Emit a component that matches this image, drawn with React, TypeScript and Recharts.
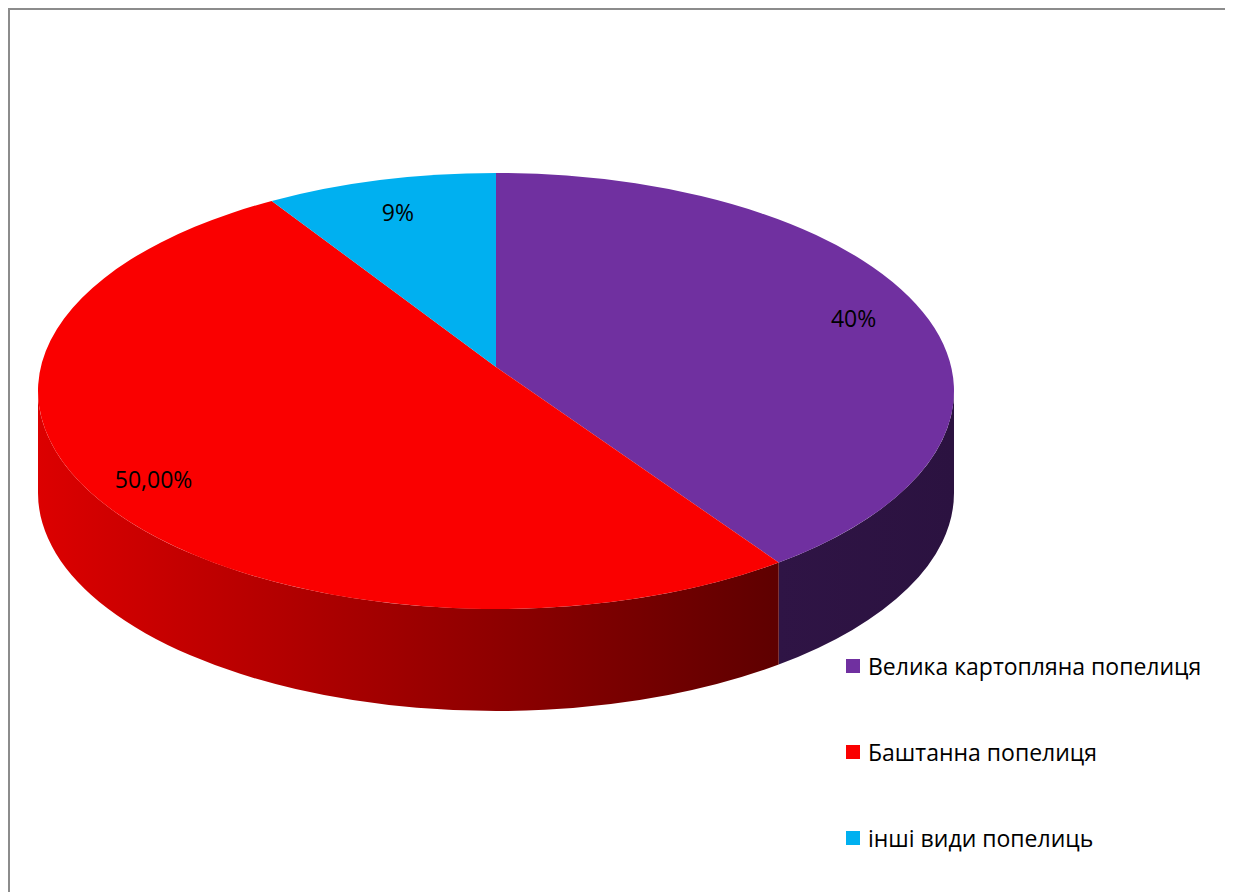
import { PieChart, Pie, Cell, Legend } from "recharts";

const names = ["Велика картопляна попелиця", "Баштанна попелиця", "інші види попелиць"];
const values = [40, 50, 9];
const labels = ["40%", "50,00%", "9%"];
const colors = ["#7030a0", "#fa0000", "#00b0f0"];
const sideColors = [
  ["#2f1445", "#2b1240"],
  ["#dc0000", "#5e0000"],
  ["#0079a6", "#005a7c"],
];

const data = names.map((name, i) => ({ name, value: values[i] }));

const RX = 458;
const RY = 218;
const DEPTH = 102;
const APEX_DY = 24;
const WARP = 6.3; // perspective: rim angles lean toward the back
const RAD = Math.PI / 180;
const FONT = "'Open Sans', sans-serif";

const warp = (a: number) => a + WARP * Math.cos(a * RAD);

const pt = (cx: number, cy: number, rx: number, ry: number, a: number) => [
  cx + rx * Math.cos(a * RAD),
  cy - ry * Math.sin(a * RAD),
];

const EllipseSlice = (props: any) => {
  const { cx, cy, outerRadius, startAngle, endAngle, fill } = props;
  const idx = props.index ?? names.indexOf(props.name ?? props.payload?.name);
  const rx = outerRadius;
  const ry = (outerRadius * RY) / RX;
  const hi = warp(Math.max(startAngle, endAngle));
  const lo = warp(Math.min(startAngle, endAngle));

  const [sx, sy] = pt(cx, cy, rx, ry, hi);
  const [ex, ey] = pt(cx, cy, rx, ry, lo);
  const large = hi - lo > 180 ? 1 : 0;
  const top = `M${cx},${cy - APEX_DY} L${sx},${sy} A${rx},${ry} 0 ${large} 1 ${ex},${ey} Z`;

  // visible front wall: angles between -180 and 0
  const fHi = Math.min(hi, 0);
  const fLo = Math.max(lo, -180);
  let side = null;
  if (fHi > fLo) {
    const [ax, ay] = pt(cx, cy, rx, ry, fHi);
    const [bx, by] = pt(cx, cy, rx, ry, fLo);
    const d = `M${ax},${ay} A${rx},${ry} 0 0 1 ${bx},${by} L${bx},${by + DEPTH} A${rx},${ry} 0 0 0 ${ax},${ay + DEPTH} Z`;
    const [c0, c1] = sideColors[idx] || [fill, fill];
    side = (
      <>
        <defs>
          <linearGradient id={`side-${idx}`} gradientUnits="userSpaceOnUse" x1={Math.min(ax, bx)} x2={Math.max(ax, bx)} y1={0} y2={0}>
            <stop offset="0%" stopColor={c0} />
            <stop offset="100%" stopColor={c1} />
          </linearGradient>
        </defs>
        <path d={d} fill={`url(#side-${idx})`} />
      </>
    );
  }

  return (
    <g>
      {side}
      <path d={top} fill={fill} />
    </g>
  );
};

const renderLabel = (props: any) => {
  const { cx, cy, midAngle, outerRadius, index } = props;
  const a = warp(midAngle);
  const rx = outerRadius * 0.85;
  const ry = ((outerRadius * RY) / RX) * 0.85;
  const x = cx + rx * Math.cos(a * RAD);
  const y = cy - ry * Math.sin(a * RAD);
  return (
    <text x={x} y={y} textAnchor="middle" dominantBaseline="central" fill="#000" fontSize={23} fontFamily={FONT}>
      {labels[index]}
    </text>
  );
};

const renderLegend = () => (
  <div style={{ fontFamily: FONT, fontSize: 23, color: "#000" }}>
    {names.map((n, i) => (
      <div key={n} style={{ display: "flex", alignItems: "center", height: 86 }}>
        <span style={{ width: 14, height: 14, background: colors[i], marginRight: 8, display: "inline-block" }} />
        <span>{n}</span>
      </div>
    ))}
  </div>
);

export default function App() {
  return (
    <div style={{ width: 1215, height: 900, border: "2px solid #8c8c8c", background: "#fff" }}>
      <PieChart width={1215} height={900}>
        <Pie
          data={data}
          dataKey="value"
          nameKey="name"
          cx={481}
          cy={376}
          outerRadius={RX}
          startAngle={90}
          endAngle={-270}
          stroke="none"
          isAnimationActive={false}
          shape={EllipseSlice}
          activeShape={EllipseSlice}
          inactiveShape={EllipseSlice}
          label={renderLabel}
          labelLine={false}
        >
          {data.map((d, i) => (
            <Cell key={d.name} fill={colors[i]} />
          ))}
        </Pie>
        <Legend
          content={renderLegend}
          layout="vertical"
          wrapperStyle={{ position: "absolute", left: 836, top: 613, width: 380 }}
        />
      </PieChart>
    </div>
  );
}
